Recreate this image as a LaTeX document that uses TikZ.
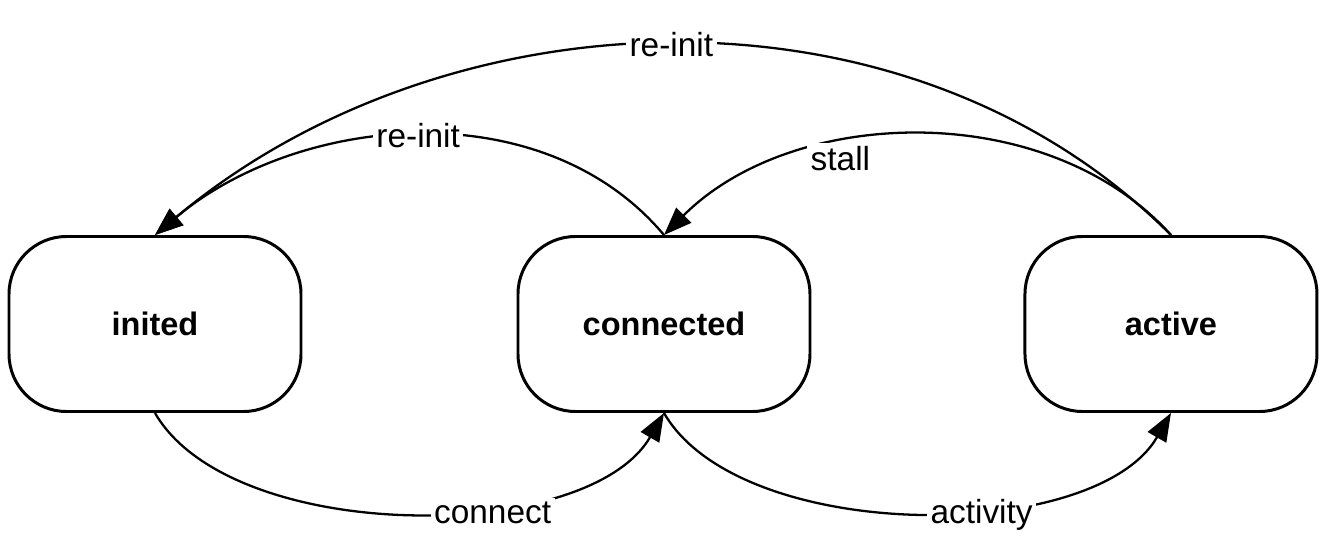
\documentclass[tikz,border=0pt]{standalone}
\usepackage{fontspec}
\setmainfont{Liberation Sans}
\usetikzlibrary{positioning,arrows.meta}

\begin{document}
\begin{tikzpicture}[
    state/.style={draw, line width=1.7pt, rounded corners=1.15cm,
      minimum width=5.84cm, minimum height=3.50cm,
      font=\fontsize{18.5}{22}\selectfont\bfseries},
    trans/.style={line width=1.3pt, -{Triangle[length=16pt,width=12pt]}},
    lbl/.style={fill=white, inner sep=2pt, font=\fontsize{19}{23}\selectfont}
  ]
    \useasboundingbox (0,0) rectangle (26.64,11.1);
    \node[state] (inited) at (3.10,4.62) {inited};
    \node[state, right=4.28cm of inited] (connected) {connected};
    \node[state, right=4.24cm of connected] (active) {active};
    \draw[trans] (active.north) to[out=135, in=40, looseness=0.95] node[lbl] {re-init} (inited.north);
    \draw[trans] (connected.north) to[out=130, in=40, looseness=0.95] node[lbl] {re-init} (inited.north);
    \draw[trans] (active.north) to[out=132, in=45, looseness=0.93] node[lbl, pos=0.65, xshift=3pt, yshift=-8pt] {stall} (connected.north);
    \draw[trans] (inited.south) to[out=-60, in=-120, looseness=0.77] node[lbl, pos=0.63, yshift=-4pt] {connect} (connected.south);
    \draw[trans] (connected.south) to[out=-60, in=-120, looseness=0.77] node[lbl, pos=0.6, yshift=-4pt] {activity} (active.south);
\end{tikzpicture}
\end{document}
